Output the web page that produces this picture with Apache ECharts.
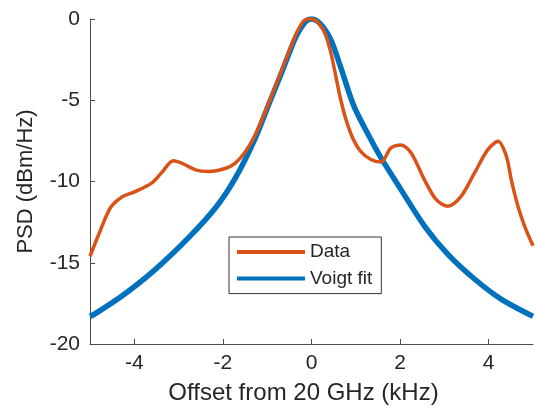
<!DOCTYPE html>
<html>
<head>
<meta charset="utf-8">
<script src="https://cdn.jsdelivr.net/npm/echarts@6/dist/echarts.min.js"></script>
<style>
  html, body { margin: 0; padding: 0; background: #fff; }
  #chart { width: 536px; height: 413px; }
</style>
</head>
<body>
<div id="chart"></div>
<script>
// Measured spectrum (offset in kHz, PSD in dBm/Hz)
const dataOffset = [-5.0, -4.81, -4.62, -4.51, -4.28, -3.98, -3.61, -3.38, -3.12, -2.93, -2.62, -2.32, -1.95, -1.72, -1.49, -1.27, -0.97, -0.66, -0.36, -0.17, 0, 0.17, 0.32, 0.44, 0.55, 0.66, 0.78, 0.93, 1.11, 1.34, 1.57, 1.79, 2.02, 2.25, 2.55, 2.81, 3.08, 3.38, 3.68, 3.98, 4.21, 4.4, 4.51, 4.66, 4.81, 5.0];
const dataPsd    = [-14.6, -13.3, -12.05, -11.5, -10.95, -10.62, -10.1, -9.45, -8.72, -8.87, -9.28, -9.38, -9.2, -8.87, -8.16, -7.13, -5.2, -3.05, -1.0, -0.1, 0, -0.29, -1.0, -2.1, -3.54, -4.97, -6.2, -7.32, -8.14, -8.65, -8.8, -7.95, -7.75, -8.25, -9.9, -11.1, -11.52, -10.9, -9.47, -8.04, -7.53, -8.45, -9.9, -11.52, -12.74, -13.95];

// Voigt profile fit
const fitOffset = [-5.0, -4.89, -4.28, -3.53, -2.78, -2.17, -1.72, -1.27, -0.97, -0.66, -0.36, -0.14, 0, 0.2, 0.44, 0.66, 0.96, 1.34, 1.57, 2.02, 2.55, 3.08, 3.68, 4.28, 5.0];
const fitPsd    = [-18.3, -18.15, -17.05, -15.42, -13.47, -11.63, -9.79, -7.34, -5.29, -3.2, -1.15, -0.18, 0, -0.3, -1.3, -2.98, -5.38, -7.42, -8.55, -10.5, -12.74, -14.48, -16.0, -17.24, -18.3];

const xTicks = [-4, -2, 0, 2, 4];
const yTicks = [-20, -15, -10, -5, 0];

const pairs = (xs, ys) => xs.map((x, i) => [x, ys[i]]);

const axisColor = '#4d4d4d';
const textColor = '#262626';
const font = 'Liberation Sans, Arial, Helvetica, sans-serif';

const chart = echarts.init(document.getElementById('chart'), null, { renderer: 'canvas' });
chart.setOption({
  animation: false,
  backgroundColor: '#fff',
  grid: { left: 90, right: 3, top: 19, bottom: 69, containLabel: false },
  xAxis: {
    type: 'value',
    min: -5, max: 5,
    name: 'Offset from 20 GHz (kHz)',
    nameLocation: 'middle',
    nameGap: 37,
    nameTextStyle: { color: textColor, fontSize: 24, fontFamily: font, padding: [0, 16, 0, 0] },
    axisLine: { show: true, onZero: false, lineStyle: { color: axisColor, width: 1 } },
    axisTick: { show: true, inside: true, length: 5, customValues: xTicks, lineStyle: { color: axisColor } },
    axisLabel: { show: true, margin: 9, customValues: xTicks, color: textColor, fontSize: 21, fontFamily: font },
    splitLine: { show: false }
  },
  yAxis: {
    type: 'value',
    min: -20, max: 0, interval: 5,
    name: 'PSD (dBm/Hz)',
    nameLocation: 'middle',
    nameGap: 53,
    nameTextStyle: { color: textColor, fontSize: 22, fontFamily: font },
    axisLine: { show: true, onZero: false, lineStyle: { color: axisColor, width: 1 } },
    axisTick: { show: true, inside: true, length: 5, customValues: yTicks, lineStyle: { color: axisColor } },
    axisLabel: { show: true, margin: 10, customValues: yTicks, color: textColor, fontSize: 21, fontFamily: font },
    splitLine: { show: false }
  },
  legend: {
    orient: 'vertical',
    left: 229, top: 237,
    padding: [4, 9, 4, 8],
    itemGap: 4.6,
    itemWidth: 68, itemHeight: 4,
    icon: 'rect',
    backgroundColor: '#fff',
    borderColor: '#333',
    borderWidth: 1,
    borderRadius: 0,
    textStyle: { color: textColor, fontSize: 19, fontFamily: font, lineHeight: 22 },
    data: ['Data', 'Voigt fit']
  },
  series: [
    {
      name: 'Voigt fit',
      type: 'line',
      data: pairs(fitOffset, fitPsd),
      smooth: 0.3,
      showSymbol: false,
      symbol: 'none',
      color: '#0072BD',
      lineStyle: { color: '#0072BD', width: 5.5 },
      z: 2
    },
    {
      name: 'Data',
      type: 'line',
      data: pairs(dataOffset, dataPsd),
      smooth: 0.3,
      showSymbol: false,
      symbol: 'none',
      color: '#D95319',
      lineStyle: { color: '#D95319', width: 3.5 },
      z: 3
    }
  ]
});
</script>
</body>
</html>
